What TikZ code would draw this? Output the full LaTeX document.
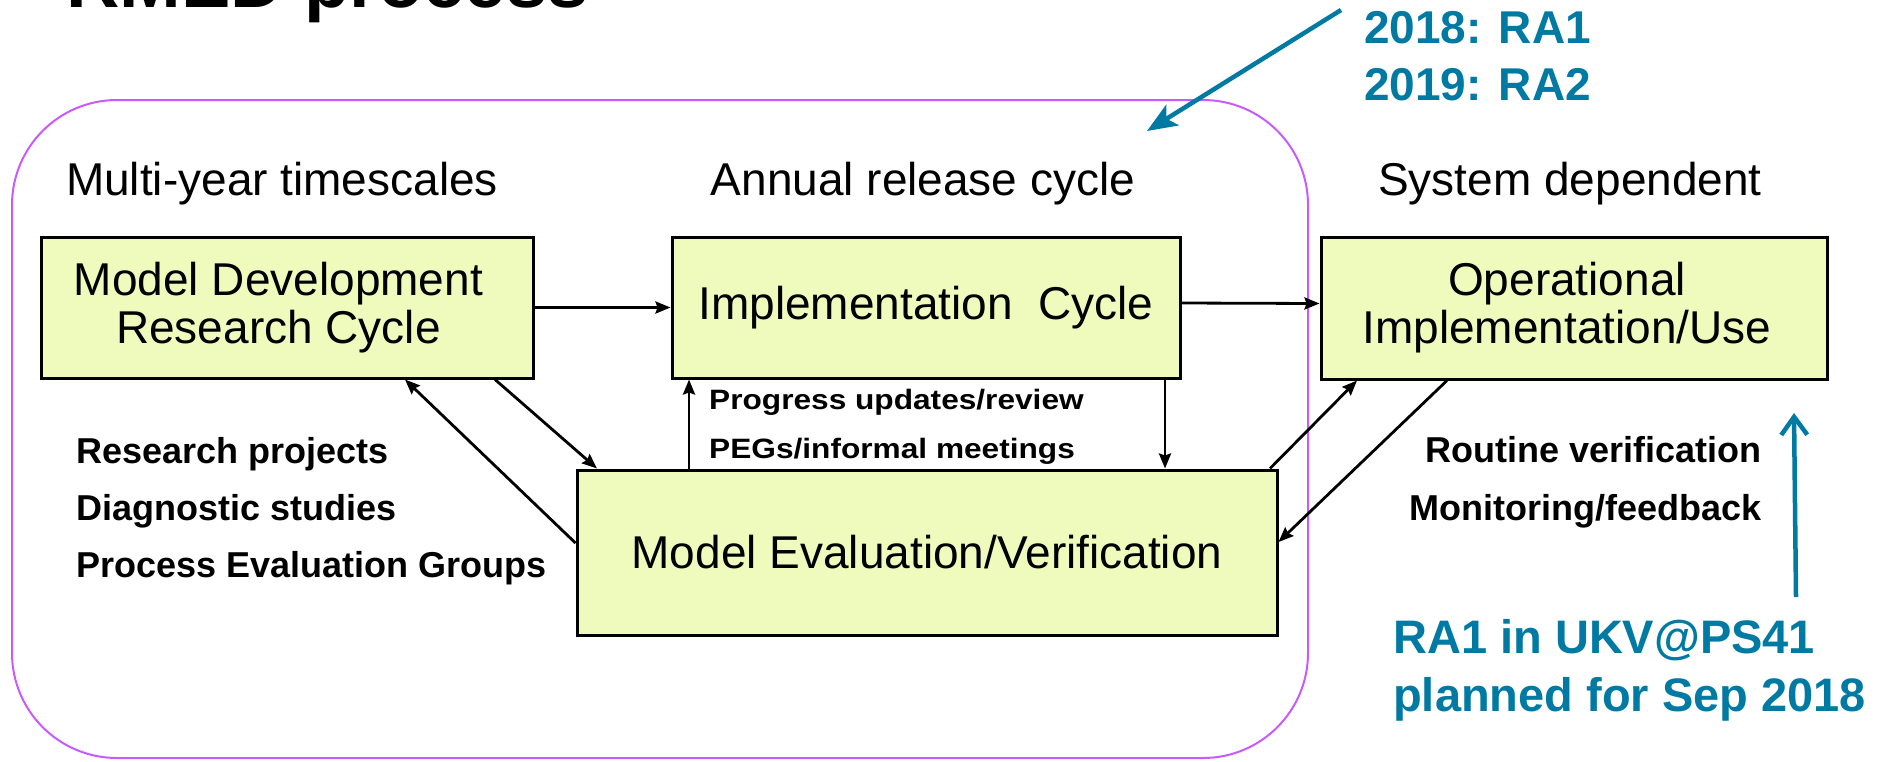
\documentclass[tikz,border=0pt]{standalone}
\usepackage{fontspec}
\usepackage{graphicx}
\setmainfont{Liberation Sans}
\usetikzlibrary{arrows.meta}
\definecolor{boxfill}{RGB}{238,251,189}
\definecolor{framec}{RGB}{200,90,255}
\definecolor{tealc}{RGB}{0,122,163}
\begin{document}
\begin{tikzpicture}[x=1pt,y=-1pt,
  box/.style={draw=black, line width=3pt, fill=boxfill, inner sep=0pt, align=center, font=\fontsize{46}{48}\selectfont},
  hdr/.style={font=\fontsize{46}{55}\selectfont, anchor=base, inner sep=0pt},
  lbl/.style={font=\bfseries\fontsize{36}{43}\selectfont, inner sep=0pt},
  sml/.style={font=\bfseries\fontsize{28}{34}\selectfont, inner sep=0pt, anchor=base west},
  conn/.style={line width=2.8pt, -{Stealth[length=15pt,width=12pt,inset=2pt]}},
  tealtxt/.style={text=tealc, font=\bfseries\fontsize{46}{57}\selectfont, inner sep=0pt, anchor=base west},
]
\clip (0,0) rectangle (1884,761);
\node[draw=framec, line width=2pt, rounded corners=105pt, minimum width=1296pt, minimum height=658pt, inner sep=0pt] (frame) at (660,429) {};

\node[anchor=base west, inner sep=0pt, font=\bfseries\fontsize{74}{80}\selectfont] (title) at (66,7) {RMED process};

\node[hdr] (h1) at (282,195) {Multi-year timescales};
\node[hdr] (h2) at (923,195) {Annual release cycle};
\node[hdr] (h3) at (1570,195) {System dependent};

\node[box, minimum width=492pt, minimum height=141pt] (mdr) at (287.5,307.5) {Model Development\kern18pt\\Research Cycle\kern18pt};
\node[box, minimum width=508pt, minimum height=141pt] (impl) at (926,307.5) {Implementation~~Cycle};
\node[box, minimum width=506pt, minimum height=142pt] (ops) at (1574,308) {Operational\kern14pt\\Implementation/Use\kern14pt};
\node[box, minimum width=700pt, minimum height=165pt] (ev) at (927,552.5) {Model Evaluation/Verification};

\node[lbl, anchor=base west] (l1) at (76,463) {Research projects};
\node[lbl, anchor=base west] (l2) at (76,520) {Diagnostic studies};
\node[lbl, anchor=base west] (l3) at (76,577) {Process Evaluation Groups};

\node[lbl, anchor=base east] (r1) at (1762,462) {Routine verification};
\node[lbl, anchor=base east] (r2) at (1762,520) {Monitoring/feedback};

\node[sml] (p1) at (709,409) {\scalebox{1.13}[1]{Progress updates/review}};
\node[sml] (p2) at (709,458) {\scalebox{1.13}[1]{PEGs/informal meetings}};

\node[tealtxt] (t1) at (1364,43) {2018: RA1};
\node[tealtxt] (t2) at (1364,100) {2019: RA2};
\node[tealtxt, font=\bfseries\fontsize{47}{58}\selectfont] (t3) at (1393,653) {RA1 in UKV@PS41};
\node[tealtxt, font=\bfseries\fontsize{47}{58}\selectfont] (t4) at (1393,711) {planned for Sep 2018};

\draw[conn] (mdr.east) -- (impl.west);
\draw[conn] ([yshift=4.5pt]impl.east) -- ([yshift=4.5pt]ops.west);
\draw[conn] (ev.west |- 0,543) -- (405,0 |- mdr.south);
\draw[conn] (495,0 |- mdr.south) -- (597,0 |- ev.north);
\draw[conn] (689,0 |- ev.north) -- (689,0 |- impl.south);
\draw[conn] (1165,0 |- impl.south) -- (1165,0 |- ev.north);
\draw[conn] (1270,0 |- ev.north) -- (1357,0 |- ops.south);
\draw[conn] (1447,0 |- ops.south) -- (ev.east |- 0,542);

\coordinate (ta) at (1341,10);
\coordinate (tb) at (1147,131);
\draw[tealc, line width=4.5pt, -{Stealth[length=30pt,width=24pt,inset=7pt]}] (ta) -- (tb);
\coordinate (ua) at (1796,597);
\coordinate (ub) at (1794,413);
\draw[tealc, line width=4.5pt, -{Straight Barb[length=18pt,width=26pt]}] (ua) -- (ub);
\end{tikzpicture}
\end{document}
